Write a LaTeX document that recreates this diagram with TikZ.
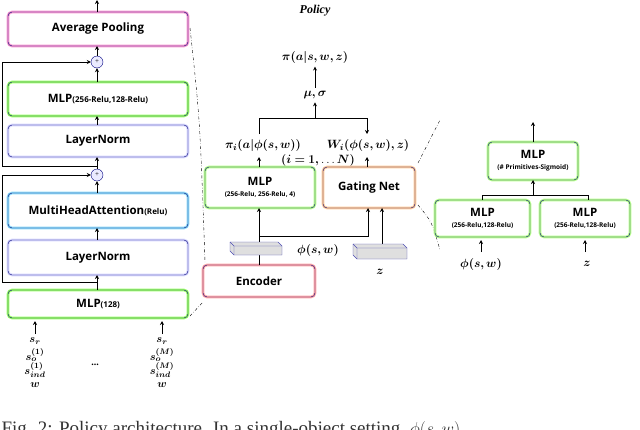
\documentclass[tikz,border=0pt]{standalone}
\usepackage{amsmath,amssymb}
\usepackage{bm}
\usepackage{fontspec}
\setsansfont{Open Sans}
\setmainfont{Liberation Serif}
\usetikzlibrary{arrows.meta}
\tikzset{
  blk/.style={rounded corners=4pt, draw=#1, line width=2.6pt, fill=white,
    postaction={draw=blue!45!black, line width=0.4pt}},
  lbl/.style={black, align=center, font=\sffamily\bfseries\fontsize{11.5}{13}\selectfont},
  mth/.style={font=\fontsize{13}{14}\selectfont},
  inp/.style={font=\fontsize{11}{12}\selectfont, inner sep=0pt},
  arr/.style={-{Stealth[length=4pt,width=4pt]}, line width=0.9pt},
  ln/.style={line width=0.9pt},
  dd/.style={dash dot, line width=0.4pt},
  tensor/.style={draw=blue!40!gray, fill=gray!25, line width=0.4pt}
}
\newcommand{\smtxt}[1]{{\sffamily\bfseries\fontsize{8}{9}\selectfont #1}}
\newcommand{\tinytxt}[1]{{\sffamily\bfseries\fontsize{6.5}{7}\selectfont #1}}
\begin{document}
\begin{tikzpicture}[x=1pt,y=-1pt]
\clip (0,0) rectangle (640,429);
\useasboundingbox (0,0) rectangle (640,429);
% left column
\draw[blk=magenta!40] (8,12) rectangle (188,46) node[midway, lbl] (pool) {Average Pooling};
\draw[blk=green!55!lime!60] (8,82) rectangle (188,116) node[midway, lbl] (mlpb) {MLP\smtxt{(256-Relu,128-Relu)}};
\draw[blk=blue!15] (8,125) rectangle (188,157) node[midway, lbl] (ln2) {LayerNorm};
\draw[blk=cyan!45] (8,193) rectangle (188,228) node[midway, lbl] (mha) {MultiHeadAttention\smtxt{(Relu)}};
\draw[blk=blue!15] (8,240) rectangle (188,275) node[midway, lbl] (ln1) {LayerNorm};
\draw[blk=green!55!lime!60] (8,290) rectangle (188,318) node[midway, lbl] (mlpa) {MLP\smtxt{(128)}};
\foreach \n/\y in {plusb/62, plusa/175}{
  \node[circle, draw=blue!50!black, fill=blue!8, inner sep=0pt, minimum size=12pt, font=\scriptsize] (\n) at (97,\y) {+};
}
\draw[arr] (97,12) -- (97,0);
\draw[arr] (plusb) -- (97,46);
\draw[arr] (97,82) -- (plusb);
\draw[arr] (97,125) -- (97,116);
\draw[arr] (plusa) -- (97,157);
\draw[arr] (97,193) -- (plusa);
\draw[arr] (97,240) -- (97,228);
\draw[arr] (97,290) -- (97,275);
\draw[arr] (97,282) -- (2,282) -- (2,175) -- (plusa);
\draw[arr] (97,166) -- (2,166) -- (2,62) -- (plusb);
\foreach \x/\m in {35/1, 162/M}{
  \draw[arr] (\x,334) -- (\x,321);
  \node[inp] at (\x,341) {$\bm{s_r}$};
  \node[inp] at (\x,355) {$\bm{s_o^{(\m)}}$};
  \node[inp] at (\x,370) {$\bm{s_{ind}^{(\m)}}$};
  \node[inp] at (\x,385) {$\bm{w}$};
}
\node at (95,365) {\textbf{...}};
% policy
\node[font=\bfseries\itshape\fontsize{12}{13}\selectfont] (title) at (315,11) {Policy};
\node[mth] (pi) at (315,57) {$\bm{\pi(a|s,w,z)}$};
\node[mth] (mu) at (315,95) {$\bm{\mu,\sigma}$};
\draw[arr] (mu) -- (pi);
\draw[arr] (259,134) -- (259,118) -- (367,118) -- (367,134);
\draw[arr] (315,118) -- (mu);
\node[mth] (pii) at (263,145) {$\bm{\pi_i(a|\phi(s,w))}$};
\node[mth] (wi) at (368,145) {$\bm{W_i(\phi(s,w),z)}$};
\node[mth] at (318,160) {$\bm{(i=1,}\ldots\bm{N)}$};
\draw[blk=green!50!lime!45] (205,167) rectangle (315,208) node[midway, lbl] (mlpp) {MLP\\[-2pt]\tinytxt{(256-Relu, 256-Relu, 4)}};
\draw[blk=orange!40] (323,167) rectangle (415,208) node[midway, lbl] (gate) {Gating Net};
\draw[arr] (259,167) -- (259,157);
\draw[arr] (367,167) -- (367,157);
\draw[blk=red!35] (203,265) rectangle (315,297) node[midway, lbl] (enc) {Encoder};
\draw[ln] (259,265) -- (259,236);
\draw[arr] (259,236) -- (259,208);
\draw[arr] (259,236) -- (368,236) -- (368,208);
\draw[arr] (382,258) -- (382,208);
\draw[tensor] (230,242) -- (278,242) -- (282,246) -- (282,255) -- (234,255) -- (230,251) -- cycle;
\draw[tensor] (234,246) -- (282,246) (234,246) -- (230,242) (234,246) -- (234,255);
\draw[tensor] (353,244) -- (403,244) -- (407,248) -- (407,259) -- (357,259) -- (353,255) -- cycle;
\draw[tensor] (357,248) -- (407,248) (357,248) -- (353,244) (357,248) -- (357,259);
\node[mth] at (318,250) {$\bm{\phi(s,w)}$};
\node[mth] at (380,272) {$\bm{z}$};
% zoom lines
\draw[dd] (190,28) .. controls (200,120) .. (205,262);
\draw[dd] (190,316) -- (203,302);
\draw[dd] (418,163) -- (440,120);
\draw[dd] (418,205) .. controls (432,222) .. (440,250);
% gating detail
\draw[blk=green!50!lime!45] (488,142) rectangle (578,180) node[midway, lbl] (mlpg) {MLP\\[-2pt]\tinytxt{(\# Primitives-Sigmoid)}};
\draw[blk=green!50!lime!45] (435,200) rectangle (530,237) node[midway, lbl] (mlpl) {MLP\\[-2pt]\tinytxt{(256-Relu,128-Relu)}};
\draw[blk=green!50!lime!45] (540,200) rectangle (630,237) node[midway, lbl] (mlpr) {MLP\\[-2pt]\tinytxt{(256-Relu,128-Relu)}};
\draw[arr] (533,142) -- (533,122);
\draw[ln] (482,200) -- (482,195) -- (588,195) -- (588,200);
\draw[arr] (533,195) -- (533,180);
\draw[arr] (481,252) -- (481,240);
\draw[arr] (585,252) -- (585,240);
\node[mth] at (481,264) {$\bm{\phi(s,w)}$};
\node[mth] at (587,264) {$\bm{z}$};
% caption (cut off)
\node[anchor=west, font=\fontsize{19}{19}\selectfont, black!80] (cap) at (-2,430) {Fig. 2: Policy architecture. In a single-object setting, $\phi(s,w)$};
\end{tikzpicture}
\end{document}
